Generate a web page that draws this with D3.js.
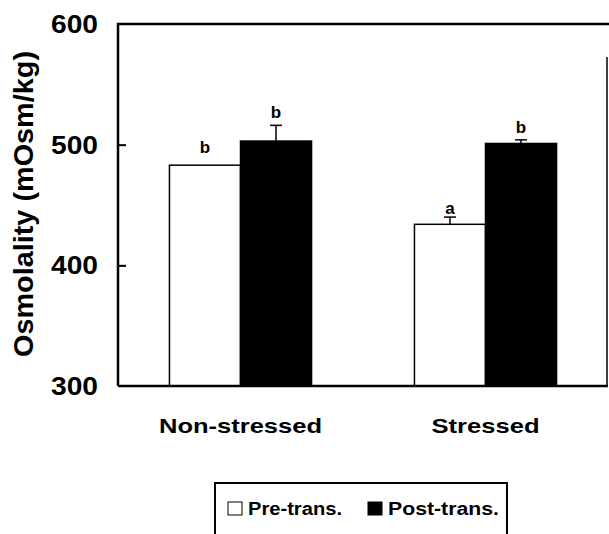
<!DOCTYPE html>
<html>
<head>
<meta charset="utf-8">
<script src="https://cdn.jsdelivr.net/npm/d3@7"></script>
<style>
  body { margin: 0; background: #fff; }
  text { font-family: Arial, "Liberation Sans", sans-serif; }
</style>
</head>
<body>
<div id="chart"></div>
<script>
const groups = ["Non-stressed", "Stressed"];
const series = ["Pre-trans.", "Post-trans."];
const means = [[483, 503], [434, 501]];
const errs = [[0, 13], [6, 3]];
const letters = [["b", "b"], ["a", "b"]];
const yTicks = [300, 400, 500, 600];

const w = 609, h = 534;
const pLeft = 118, pRight = 608, pTop = 24, pBottom = 386;
// gap between error cap and letter baseline
const letterGap = [[12, 7], [3, 7]];

const svg = d3.select("#chart").append("svg")
    .attr("width", w).attr("height", h);

const y = d3.scaleLinear().domain([300, 600]).range([pBottom, pTop]);
const x0 = d3.scaleBand().domain(groups).range([pLeft, pRight])
    .paddingInner(0.42).paddingOuter(0.21);
const x1 = d3.scaleBand().domain(series).range([0, x0.bandwidth()]);

// bars
groups.forEach((g, gi) => {
  series.forEach((s, si) => {
    const bx = x0(g) + x1(s);
    const v = means[gi][si];
    svg.append("rect")
        .attr("x", bx).attr("y", y(v))
        .attr("width", x1.bandwidth()).attr("height", y(300) - y(v))
        .attr("fill", si === 0 ? "#fff" : "#000")
        .attr("stroke", "#000").attr("stroke-width", 1.5);
    const cx = bx + x1.bandwidth() / 2;
    if (errs[gi][si] > 0) {
      svg.append("line")
          .attr("x1", cx).attr("x2", cx)
          .attr("y1", y(v)).attr("y2", y(v + errs[gi][si]))
          .attr("stroke", "#000").attr("stroke-width", 1.5);
      svg.append("line")
          .attr("x1", cx - 6).attr("x2", cx + 6)
          .attr("y1", y(v + errs[gi][si])).attr("y2", y(v + errs[gi][si]))
          .attr("stroke", "#000").attr("stroke-width", 1.5);
    }
    svg.append("text")
        .attr("x", cx)
        .attr("y", y(v + errs[gi][si]) - letterGap[gi][si])
        .attr("text-anchor", "middle")
        .attr("font-size", 17).attr("font-weight", "bold")
        .text(letters[gi][si]);
  });
});

// frame
svg.append("path")
    .attr("d", `M${pLeft},${pBottom}V${pTop}H${w}`)
    .attr("fill", "none").attr("stroke", "#000").attr("stroke-width", 2.5);
svg.append("line")
    .attr("x1", pLeft).attr("x2", pRight)
    .attr("y1", pBottom).attr("y2", pBottom)
    .attr("stroke", "#000").attr("stroke-width", 2.5);
svg.append("line")
    .attr("x1", pRight - 1).attr("x2", pRight - 1)
    .attr("y1", pTop + 33).attr("y2", pBottom)
    .attr("stroke", "#000").attr("stroke-width", 1.5);

// y axis
const yAxis = d3.axisRight(y).tickValues(yTicks).tickSize(8).tickFormat("");
const ya = svg.append("g").attr("transform", `translate(${pLeft},0)`).call(yAxis);
ya.select(".domain").remove();
ya.selectAll("line").attr("stroke-width", 2);
ya.selectAll(".tick").filter(d => d === 300 || d === 600).remove();

svg.selectAll(".ylab").data(yTicks).enter().append("text")
    .attr("class", "ylab")
    .attr("x", 98).attr("y", d => y(d) + 9)
    .attr("text-anchor", "end")
    .attr("font-size", 25).attr("font-weight", "bold")
    .attr("textLength", 47).attr("lengthAdjust", "spacingAndGlyphs")
    .text(d => d);

svg.append("text")
    .attr("transform", "rotate(-90)")
    .attr("x", -204).attr("y", 33)
    .attr("text-anchor", "middle")
    .attr("font-size", 28).attr("font-weight", "bold")
    .attr("textLength", 306).attr("lengthAdjust", "spacingAndGlyphs")
    .text("Osmolality (mOsm/kg)");

// x labels
const xLabW = [163, 108];
svg.selectAll(".xlab").data(groups).enter().append("text")
    .attr("class", "xlab")
    .attr("x", d => x0(d) + x0.bandwidth() / 2)
    .attr("y", 433)
    .attr("text-anchor", "middle")
    .attr("font-size", 21).attr("font-weight", "bold")
    .attr("textLength", (d, i) => xLabW[i]).attr("lengthAdjust", "spacingAndGlyphs")
    .text(d => d);

// legend
const lg = svg.append("g").attr("transform", "translate(215,483)");
lg.append("rect").attr("x", 0).attr("y", 0).attr("width", 292).attr("height", 60)
    .attr("fill", "#fff").attr("stroke", "#000").attr("stroke-width", 2);
const lx = [13, 153];
const legW = [94, 111];
series.forEach((s, i) => {
  lg.append("rect").attr("x", lx[i]).attr("y", 19).attr("width", 14).attr("height", 13)
      .attr("fill", i === 0 ? "#fff" : "#000").attr("stroke", "#000").attr("stroke-width", 1);
  lg.append("text").attr("x", lx[i] + 20).attr("y", 32)
      .attr("font-size", 18).attr("font-weight", "bold")
      .attr("textLength", legW[i]).attr("lengthAdjust", "spacingAndGlyphs")
      .text(s);
});
</script>
</body>
</html>
